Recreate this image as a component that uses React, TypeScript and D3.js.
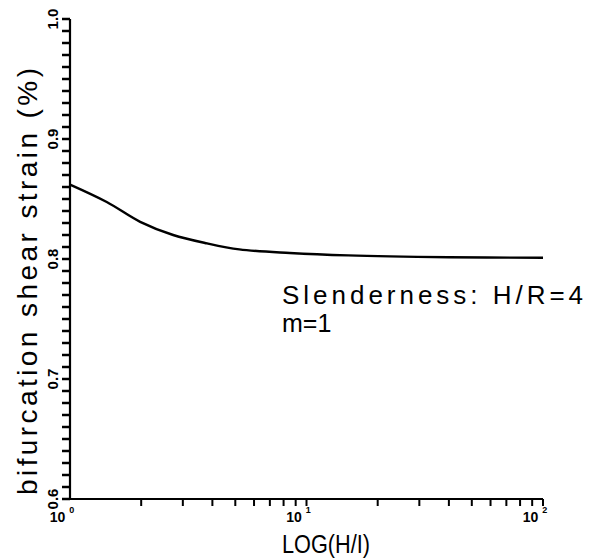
import React from "react";
import * as d3 from "d3";

const hlValues = [1, 1.43, 1.98, 2.73, 3.8, 5.2, 8.5, 15, 40, 100];
const strainValues = [0.862, 0.8475, 0.831, 0.82, 0.813, 0.808, 0.805, 0.803, 0.8015, 0.801];
const yTickValues = [0.6, 0.7, 0.8, 0.9, 1.0];
const yTickLabels = ["0.6", "0.7", "0.8", "0.9", "1.0"];
const xTickValues = [1, 10, 100];
const xTickBases = ["10", "10", "10"];
const xTickExps = ["0", "1", "2"];

const W = 592;
const H = 558;
const left = 70;
const right = 543;
const top = 19;
const bottom = 499;
const font = "'Liberation Sans', Arial, sans-serif";

export default function App() {
  const x = d3.scaleLog().domain([1, 100]).range([left, right]);
  const y = d3.scaleLinear().domain([0.6, 1.0]).range([bottom, top]);
  const line = d3
    .line<number>()
    .x((_, i) => x(hlValues[i]))
    .y((d) => y(d))
    .curve(d3.curveCatmullRom.alpha(0.5));

  const yMinor = d3.range(60, 101).map((v) => v / 100);
  const xMinor: number[] = [];
  [1, 10].forEach((dec) => {
    for (let k = 2; k <= 10; k++) xMinor.push(dec * k);
  });

  const yTickPath = yMinor.map((v) => `M${left - 8},${y(v)}H${left}`).join("");
  const xTickPath = xMinor.map((v) => `M${x(v)},${bottom}V${bottom + 7}`).join("");

  return (
    <svg width={W} height={H} style={{ position: "absolute", left: 0, top: 0, background: "#fff" }}>
      <rect x={0} y={0} width={W} height={H} fill="#fff" />
      {/* ticks */}
      <path d={yTickPath} stroke="#000" strokeWidth={2.5} fill="none" />
      <path d={xTickPath} stroke="#000" strokeWidth={2} fill="none" />
      {/* axes */}
      <line x1={left} y1={top} x2={left} y2={bottom + 1} stroke="#000" strokeWidth={2.2} />
      <line x1={left - 1} y1={bottom} x2={right} y2={bottom} stroke="#000" strokeWidth={2.2} />
      {yTickValues.map((v, i) => (
        <text
          key={"yt" + i}
          transform={`translate(${left - 12},${y(v)}) rotate(-90)`}
          textAnchor="middle"
          fontFamily={font}
          fontSize={15}
          fontWeight="bold"
          fill="#000"
        >
          {yTickLabels[i]}
        </text>
      ))}
      {xTickValues.map((v, i) => (
        <text
          key={"xt" + i}
          x={x(v) - 8}
          y={bottom + 23}
          textAnchor="middle"
          fontFamily={font}
          fontSize={14}
          fontWeight="bold"
          fill="#000"
        >
          {xTickBases[i]}
          <tspan dx={4} dy={-9} fontSize={9}>
            {xTickExps[i]}
          </tspan>
        </text>
      ))}
      {/* curve */}
      <path d={line(strainValues) || ""} fill="none" stroke="#000" strokeWidth={2.4} />
      {/* axis titles */}
      <text
        transform={`translate(37,${(68 + 495) / 2}) rotate(-90)`}
        textAnchor="middle"
        fontFamily={font}
        fontSize={28}
        textLength={427}
        lengthAdjust="spacing"
        fill="#000"
      >
        bifurcation shear strain (%)
      </text>
      <text
        x={326}
        y={553}
        textAnchor="middle"
        fontFamily={font}
        fontSize={26}
        textLength={88}
        lengthAdjust="spacingAndGlyphs"
        fill="#000"
      >
        LOG(H/I)
      </text>
      {/* annotation */}
      <text x={282} y={304} fontFamily={font} fontSize={26} textLength={301} lengthAdjust="spacing" fill="#000">
        Slenderness:  H/R=4
      </text>
      <text x={282} y={332} fontFamily={font} fontSize={25} fill="#000">
        m=1
      </text>
    </svg>
  );
}
